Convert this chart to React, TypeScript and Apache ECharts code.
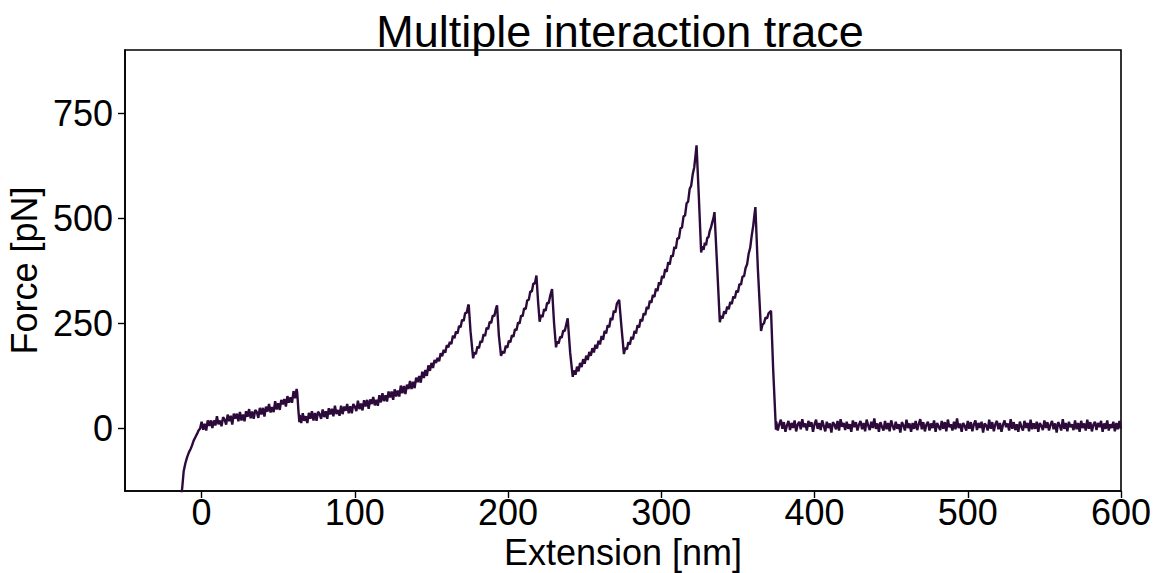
import React, { useEffect, useRef } from "react";
import * as echarts from "echarts";

// Extension [nm], Force [pN] pairs
const approachTrace: [number, number][] = [
  [-13.5, -170], [-12.6, -140], [-11.7, -103], [-10.6, -84], [-9.5, -70], [-8.3, -58],
  [-7.2, -50], [-6.3, -42], [-5.2, -30], [-4.1, -22], [-3, -14], [-2, -6], [-1, -1],
];

const firstPeakTrace: [number, number][] = [
  [0, 15], [1, -4], [2, 10], [3, -6], [4, 18], [5, 5], [6, 18], [7, 0], [8, 18], [9, 6],
  [10, 28], [11, 9], [12, 18], [13, 4], [14, 26], [15, 20], [16, 8], [17, 32], [18, 16], [19, 29],
  [20, 8], [21, 34], [22, 22], [23, 34], [24, 16], [25, 38], [26, 18], [27, 32], [28, 16], [29, 40],
  [30, 27], [31, 45], [32, 23], [33, 39], [34, 22], [35, 43], [36, 38], [37, 24], [38, 48], [39, 32],
  [40, 48], [41, 27], [42, 51], [43, 39], [44, 57], [45, 37], [46, 50], [47, 38], [48, 64], [49, 44],
  [50, 59], [51, 43], [52, 67], [53, 56], [54, 69], [55, 51], [56, 76], [57, 60], [58, 73], [59, 60],
  [60, 88], [61, 71], [62, 93], [62.4, 84], [63.2, 40], [63.8, 14],
];

const wlcRiseTrace: [number, number][] = [
  [64, 31], [65, 12], [66, 35], [67, 17], [68, 28], [69, 12], [70, 36], [71, 22], [72, 40], [73, 18],
  [74, 36], [75, 17], [76, 39], [77, 33], [78, 22], [79, 44], [80, 26], [81, 40], [82, 22], [83, 47],
  [84, 32], [85, 46], [86, 28], [87, 53], [88, 33], [89, 43], [90, 29], [91, 53], [92, 33], [93, 51],
  [94, 41], [95, 57], [96, 35], [97, 52], [98, 35], [99, 57], [100, 51], [101, 40], [102, 65], [103, 45],
  [104, 58], [105, 42], [106, 66], [107, 51], [108, 67], [109, 46], [110, 68], [111, 57], [112, 74], [113, 54],
  [114, 67], [115, 53], [116, 78], [117, 61], [118, 83], [119, 64], [120, 78], [121, 63], [122, 87], [123, 73],
  [124, 87], [125, 67], [126, 92], [127, 75], [128, 89], [129, 75], [130, 101], [131, 83], [132, 100], [133, 81],
  [134, 103], [135, 93], [136, 112], [137, 93], [138, 110], [139, 95], [140, 120], [141, 109], [142, 124], [143, 108],
  [144, 134], [145, 119], [146, 138], [147, 124], [148, 149], [149, 136], [150, 155], [151, 143], [152, 162], [153, 155],
  [154, 167], [155, 159], [156, 178], [157, 171], [158, 186], [159, 179], [160, 197], [161, 192], [162, 205], [163, 200],
  [164, 220], [165, 214], [166, 230], [167, 225], [168, 243], [169, 240], [170, 258], [171, 255], [172, 274], [173, 274],
  [174, 292], [174.3, 294], [175.5, 230], [177.2, 166],
];

const sawtoothTrace: [number, number][] = [
  [178, 180], [179, 176], [180, 194], [181, 190], [182, 207], [183, 204], [184, 223], [185, 219],
  [186, 239], [187, 235], [188, 253], [189, 250], [190, 268], [191, 266], [192, 283], [192.8, 292],
  [194, 220], [195.4, 172],
  [196.5, 183], [197.5, 178], [198.5, 196], [199.5, 191], [200.5, 208], [201.5, 204], [202.5, 221],
  [203.5, 217], [204.5, 235], [205.5, 233], [206.5, 251], [207.5, 249], [208.5, 268], [209.5, 266],
  [210.5, 285], [211.5, 283], [212.5, 304], [213.5, 305], [214.5, 325], [215.5, 325], [216.5, 344],
  [217.5, 344], [218.5, 363], [219.6, 300], [220.6, 253],
  [221.5, 269], [222.5, 264], [223.5, 283], [224.5, 279], [225.5, 298], [226.5, 297], [227.5, 315],
  [228.7, 331], [230, 250], [231.3, 192],
  [232, 206], [233, 201], [234, 217], [235, 215], [236, 232], [237, 231], [238, 247], [238.9, 261],
  [240.5, 180], [242.2, 122],
  [243, 137], [244, 127], [245, 146], [246, 135], [247, 155], [248, 145], [249, 164], [250, 153],
  [251, 172], [252, 162], [253, 181], [254, 172], [255, 190], [256, 180], [257, 198], [258, 189],
  [259, 208], [260, 199], [261, 219], [262, 210], [263, 231], [264, 225], [265, 245], [266, 240],
  [267, 262], [268, 257], [269, 279], [270, 275], [271, 296], [272.5, 305], [274, 240], [275.6, 176],
];

const mainPeakTrace: [number, number][] = [
  [276.5, 191], [277.5, 187], [278.5, 204], [279.5, 199], [280.5, 217], [281.5, 211], [282.5, 231],
  [283.5, 225], [284.5, 245], [285.5, 239], [286.5, 259], [287.5, 254], [288.5, 273], [289.5, 269],
  [290.5, 288], [291.5, 283], [292.5, 303], [293.5, 298], [294.5, 317], [295.5, 312], [296.5, 332],
  [297.5, 326], [298.5, 347], [299.5, 341], [300.5, 362], [301.5, 357], [302.5, 378], [303.5, 372],
  [304.5, 395], [305.5, 389], [306.5, 411], [307.5, 408], [308.5, 431], [309.5, 427], [310.5, 452],
  [311.5, 451], [312.5, 476], [313.5, 477], [314.5, 504], [315.5, 506], [316.5, 535], [317.5, 539],
  [318.5, 569], [319.5, 577], [320.5, 604], [321.5, 621], [322.3, 648], [323, 673],
  [324.5, 550], [326, 418],
  [326.8, 433], [327.6, 424], [328.4, 441], [329.2, 435], [330, 453], [330.8, 454], [331.6, 469],
  [332.4, 477], [333.2, 489], [334, 499], [334.7, 514], [336.5, 380], [338.2, 252],
  [339, 267], [340, 261], [341, 278], [342, 272], [343, 289], [344, 283], [345, 300], [346, 295],
  [347, 313], [348, 309], [349, 327], [350, 323], [351, 343], [352, 341], [353, 361], [354, 361],
  [355, 381], [356, 390], [357, 415], [358, 429], [359, 458], [360, 482], [360.7, 505], [361.4, 526],
  [363, 380], [365.1, 231],
  [366, 246], [367, 249], [368, 263], [369, 261], [370, 273], [371.6, 279], [373, 140], [374.8, -4],
];

const baselineTrace: [number, number][] = [
  [375, 15], [376, -6], [377, 9], [378, 20], [379, -2], [380, 14], [381, -9], [382, 6], [383, 17], [384, -5],
  [385, 12], [386, 0], [387, 18], [388, -8], [389, 8], [390, 15], [391, -3], [392, 21], [393, 2], [394, 11],
  [395, -6], [396, 17], [397, 3], [398, 14], [399, -9], [400, 9], [401, 20], [402, -2], [403, 12], [404, -5],
  [405, 18], [406, 5], [407, -8], [408, 15], [409, 0], [410, 11], [411, -11], [412, 14], [413, 8], [414, -3],
  [415, 17], [416, -6], [417, 21], [418, 3], [419, 12], [420, -5], [421, 15], [422, -2], [423, 9], [424, -9],
  [425, 18], [426, 2], [427, 14], [428, -6], [429, 8], [430, 17], [431, -3], [432, 12], [433, -8], [434, 20],
  [435, 6], [436, -5], [437, 15], [438, 0], [439, 23], [440, -2], [441, 11], [442, -9], [443, 14], [444, 3],
  [445, -6], [446, 17], [447, -3], [448, 12], [449, -8], [450, 18], [451, 5], [452, -5], [453, 15], [454, -2],
  [455, 9], [456, -11], [457, 14], [458, 6], [459, -6], [460, 20], [461, 0], [462, 11], [463, -9], [464, 12],
  [465, -2], [466, 17], [467, -5], [468, 9], [469, 21], [470, -3], [471, 14], [472, -8], [473, 8], [474, 15],
  [475, -6], [476, 11], [477, 0], [478, 18], [479, -9], [480, 12], [481, 3], [482, -5], [483, 17], [484, -2],
  [485, 14], [486, -8], [487, 20], [488, 2], [489, 9], [490, -6], [491, 15], [492, -3], [493, 23], [494, 0],
  [495, 11], [496, -9], [497, 12], [498, 5], [499, -6], [500, 17], [501, -2], [502, 14], [503, -8], [504, 9],
  [505, 18], [506, -5], [507, 12], [508, 0], [509, 15], [510, -11], [511, 11], [512, 6], [513, -6], [514, 20],
  [515, -2], [516, 14], [517, -8], [518, 9], [519, 17], [520, -3], [521, 12], [522, -9], [523, 8], [524, 18],
  [525, 2], [526, 11], [527, -6], [528, 21], [529, -2], [530, 14], [531, -5], [532, 9], [533, -9], [534, 15],
  [535, 3], [536, -6], [537, 17], [538, 0], [539, 12], [540, -8], [541, 20], [542, -3], [543, 11], [544, -2],
  [545, 15], [546, -9], [547, 12], [548, 5], [549, -5], [550, 18], [551, 0], [552, 14], [553, -6], [554, 8],
  [555, 17], [556, -3], [557, 11], [558, -11], [559, 14], [560, 6], [561, -6], [562, 21], [563, -2], [564, 12],
  [565, -8], [566, 15], [567, 2], [568, 9], [569, -5], [570, 18], [571, -3], [572, 12], [573, -9], [574, 17],
  [575, 0], [576, 11], [577, -6], [578, 20], [579, -2], [580, 14], [581, -8], [582, 8], [583, 15], [584, -5],
  [585, 12], [586, 2], [587, 17], [588, -9], [589, 11], [590, -2], [591, 18], [592, -6], [593, 9], [594, 0],
  [595, 15], [596, -8], [597, 12], [598, -3], [599, 17], [600, -2],
];

const xTicks = [0, 100, 200, 300, 400, 500, 600];
const yTicks = [0, 250, 500, 750];

const FONT = "Liberation Sans, Arial, Helvetica, sans-serif";

export default function App() {
  const ref = useRef<HTMLDivElement>(null);

  useEffect(() => {
    if (!ref.current) return;
    const chart = echarts.init(ref.current, undefined, { renderer: "svg" });
    const trace = [
      ...approachTrace,
      ...firstPeakTrace,
      ...wlcRiseTrace,
      ...sawtoothTrace,
      ...mainPeakTrace,
      ...baselineTrace,
    ];
    chart.setOption({
      animation: false,
      backgroundColor: "#ffffff",
      title: {
        text: "Multiple interaction trace",
        left: 615,
        top: 1,
        textAlign: "center",
        textStyle: {
          fontFamily: FONT,
          fontSize: 45,
          fontWeight: "normal",
          color: "#000",
          lineHeight: 50,
        },
      },
      grid: {
        left: 125,
        right: 38,
        top: 50,
        bottom: 82,
        show: true,
        borderColor: "#000",
        borderWidth: 1.6,
        backgroundColor: "transparent",
        outerBoundsMode: "none",
        containLabel: false,
      },
      xAxis: {
        type: "value",
        min: -50,
        max: 600,
        name: "Extension [nm]",
        nameLocation: "middle",
        nameGap: 38,
        nameTextStyle: { fontFamily: FONT, fontSize: 36, color: "#000" },
        axisLine: { show: true, onZero: false, lineStyle: { color: "#000", width: 1.6 } },
        axisTick: {
          show: true,
          inside: false,
          length: 7,
          lineStyle: { color: "#000", width: 1.4 },
          customValues: xTicks,
        },
        axisLabel: {
          fontFamily: FONT,
          fontSize: 36,
          color: "#000",
          margin: 3,
          customValues: xTicks,
        },
        splitLine: { show: false },
      },
      yAxis: {
        type: "value",
        min: -150,
        max: 900,
        name: "Force [pN]",
        nameLocation: "middle",
        nameGap: 80,
        nameRotate: 90,
        nameTextStyle: { fontFamily: FONT, fontSize: 36, color: "#000" },
        axisLine: { show: true, onZero: false, lineStyle: { color: "#000", width: 1.6 } },
        axisTick: {
          show: true,
          inside: false,
          length: 7,
          lineStyle: { color: "#000", width: 1.4 },
          customValues: yTicks,
        },
        axisLabel: {
          fontFamily: FONT,
          fontSize: 36,
          color: "#000",
          margin: 12,
          customValues: yTicks,
        },
        splitLine: { show: false },
      },
      series: [
        {
          type: "line",
          data: trace,
          showSymbol: false,
          symbol: "none",
          clip: true,
          lineStyle: { color: "#2c0b3b", width: 2.4 },
        },
      ],
    });
    return () => chart.dispose();
  }, []);

  return (
    <div
      ref={ref}
      style={{ position: "absolute", left: 0, top: 0, width: 1159, height: 573 }}
    />
  );
}
